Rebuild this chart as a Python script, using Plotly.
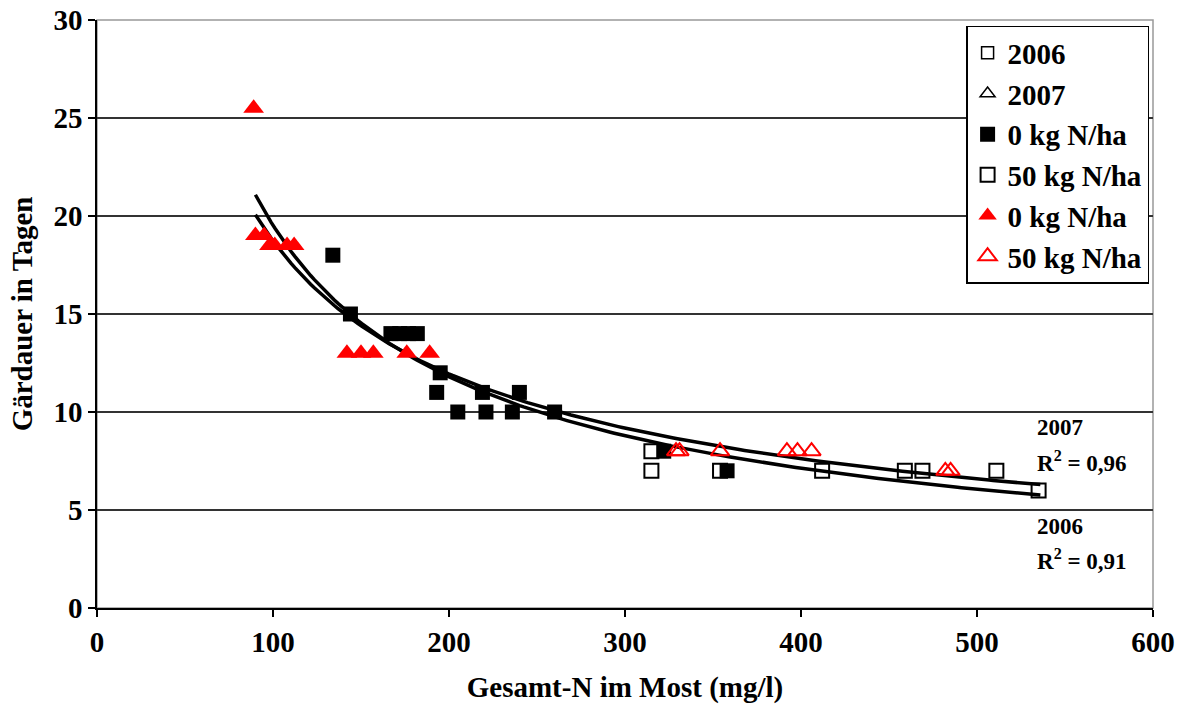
import numpy as np
import plotly.graph_objects as go

# 2006 (squares)
n06_0kg_x = [134, 144, 167, 172, 177, 182, 193, 195, 205, 219, 221, 236, 240, 260, 322, 358]
n06_0kg_y = [18, 15, 14, 14, 14, 14, 11, 12, 10, 11, 10, 10, 11, 10, 8, 7]
n06_50kg_x = [315, 315, 354, 412, 459, 469, 511, 535]
n06_50kg_y = [8, 7, 7, 7, 7, 7, 7, 6]

# 2007 (triangles)
n07_0kg_x = [89, 90, 95, 98, 101, 108, 112, 142, 150, 157, 176, 189]
n07_0kg_y = [25.5, 19, 19, 18.5, 18.5, 18.5, 18.5, 13, 13, 13, 13, 13]
n07_50kg_x = [329, 331, 354, 392, 398, 406, 482, 485]
n07_50kg_y = [8, 8, 8, 8, 8, 8, 7, 7]

x_ticks = [0, 100, 200, 300, 400, 500, 600]
y_ticks = [0, 5, 10, 15, 20, 25, 30]
trend_range = (90, 536)
r2_labels = {"2007": "0,96", "2006": "0,91"}

FONT = "Liberation Serif"
BLACK = "#000000"
RED = "#ff0000"
FS = 29


def power_fit(xs, ys):
    b, ln_a = np.polyfit(np.log(xs), np.log(ys), 1)
    return np.exp(ln_a), b


fig = go.Figure()

# power trend lines
xt = np.linspace(trend_range[0], trend_range[1], 200)
for xs, ys in [(n06_0kg_x + n06_50kg_x, n06_0kg_y + n06_50kg_y),
               (n07_0kg_x + n07_50kg_x, n07_0kg_y + n07_50kg_y)]:
    a, b = power_fit(np.array(xs, float), np.array(ys, float))
    fig.add_trace(go.Scatter(x=xt, y=a * xt ** b, mode="lines",
                             line=dict(color=BLACK, width=3.5), showlegend=False,
                             hoverinfo="skip"))

# legend-only entries for the years
fig.add_trace(go.Scatter(x=[None], y=[None], mode="markers", name="2006",
                         marker=dict(symbol="square-open", size=12, color=BLACK,
                                     line=dict(width=1.5))))
fig.add_trace(go.Scatter(x=[None], y=[None], mode="markers", name="2007",
                         marker=dict(symbol="triangle-up-open", size=13, color=BLACK,
                                     line=dict(width=1.5))))

fig.add_trace(go.Scatter(x=n06_0kg_x, y=n06_0kg_y, mode="markers", name="0 kg N/ha",
                         marker=dict(symbol="square", size=15, color=BLACK,
                                     line=dict(width=0))))
fig.add_trace(go.Scatter(x=n06_50kg_x, y=n06_50kg_y, mode="markers", name="50 kg N/ha",
                         marker=dict(symbol="square-open", size=14, color=BLACK,
                                     line=dict(width=2))))
fig.add_trace(go.Scatter(x=n07_0kg_x, y=n07_0kg_y, mode="markers", name="0 kg N/ha",
                         marker=dict(symbol="triangle-up", size=18, color=RED,
                                     line=dict(width=0))))
fig.add_trace(go.Scatter(x=n07_50kg_x, y=n07_50kg_y, mode="markers", name="50 kg N/ha",
                         marker=dict(symbol="triangle-up-open", size=16, color=RED,
                                     line=dict(width=2))))

# R² labels next to the curve ends (year above, R² below)
label_rows = [("<b>2007</b>", 9.2), (f"<b>R<sup>2</sup> = {r2_labels['2007']}</b>", 7.45),
              ("<b>2006</b>", 4.15), (f"<b>R<sup>2</sup> = {r2_labels['2006']}</b>", 2.45)]
for text, yv in label_rows:
    fig.add_annotation(x=533, y=yv, xref="x", yref="y", xanchor="left", yanchor="middle",
                       text=text, showarrow=False, align="left",
                       font=dict(family=FONT, size=23, color=BLACK))

# grey frame on top and right
fig.add_shape(type="rect", xref="paper", yref="paper", x0=0, y0=0, x1=1, y1=1,
              line=dict(color="#999999", width=1.5), layer="below")

fig.update_layout(
    width=1182, height=708,
    margin=dict(l=97, r=29, t=20, b=100),
    plot_bgcolor="white", paper_bgcolor="white",
    font=dict(family=FONT, size=FS, color=BLACK),
    legend=dict(x=0.823, y=0.99, xanchor="left", yanchor="top",
                bgcolor="white", bordercolor=BLACK, borderwidth=1.5,
                font=dict(family=FONT, size=FS, color=BLACK, weight="bold"),
                itemwidth=30, tracegroupgap=0),
    xaxis=dict(range=[0, 600], tickvals=x_ticks, ticktext=[f"<b>{v}</b>" for v in x_ticks],
               showgrid=False, zeroline=False, showline=True, linecolor=BLACK, linewidth=1.5,
               ticks="outside", ticklen=7, tickcolor=BLACK, tickwidth=1.5, automargin=False,
               tickfont=dict(family=FONT, size=FS),
               title=dict(text="<b>Gesamt-N im Most (mg/l)</b>", standoff=20,
                          font=dict(family=FONT, size=FS))),
    yaxis=dict(range=[0, 30], tickvals=y_ticks, ticktext=[f"<b>{v}</b>" for v in y_ticks],
               showgrid=True, gridcolor="#333333", gridwidth=1.5,
               zeroline=False, showline=True, linecolor=BLACK, linewidth=1.5,
               ticks="outside", ticklen=7, tickcolor=BLACK, tickwidth=1.5, automargin=False,
               tickfont=dict(family=FONT, size=FS),
               title=dict(text="<b>Gärdauer in Tagen</b>", standoff=12,
                          font=dict(family=FONT, size=FS))),
)

fig.write_html("out.html")
